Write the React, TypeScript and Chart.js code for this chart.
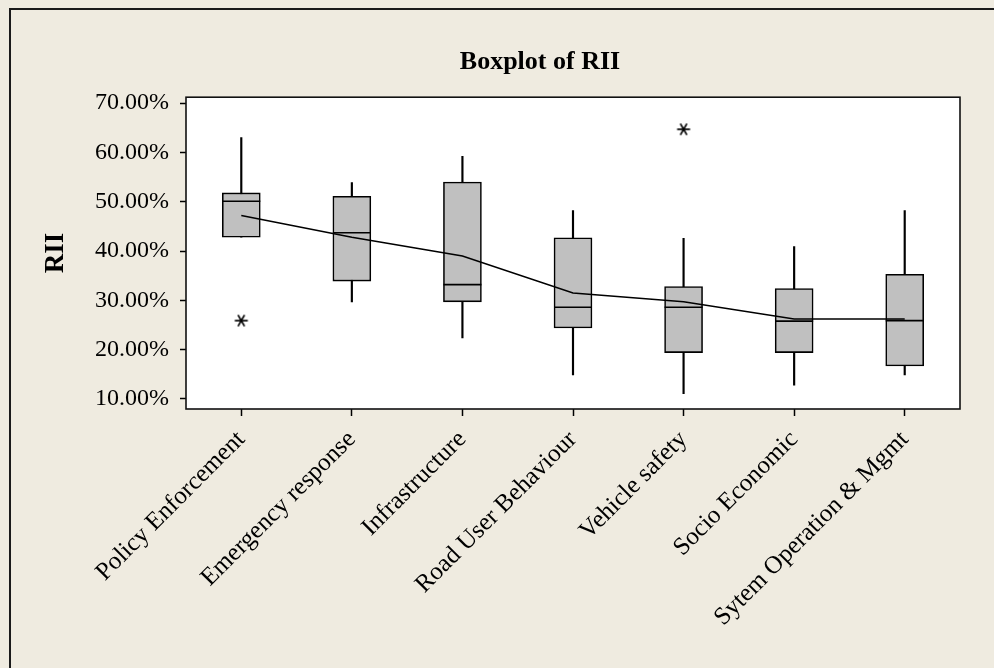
import React, { useEffect, useRef } from 'react';
import { Chart, registerables } from 'chart.js';

Chart.register(...registerables);

const categories = [
  'Policy Enforcement',
  'Emergency response',
  'Infrastructure',
  'Road User Behaviour',
  'Vehicle safety',
  'Socio Economic',
  'Sytem Operation & Mgmt',
];
const whiskerLow = [42.8, 29.7, 22.4, 14.9, 11.1, 12.8, 14.9];
const q1 = [42.8, 33.9, 29.7, 24.4, 19.4, 19.4, 16.7];
const median = [50.1, 43.7, 33.2, 28.6, 28.6, 25.8, 25.9];
const q3 = [51.8, 51.1, 54.0, 42.7, 32.8, 32.4, 35.3];
const whiskerHigh = [63.0, 53.9, 59.2, 48.2, 42.6, 40.9, 48.2];
const means = [47.2, 42.8, 39.0, 31.5, 29.7, 26.2, 26.2];
const outlierCats = ['Policy Enforcement', 'Vehicle safety'];
const outlierValues = [25.9, 64.7];
const yTicks = [10, 20, 30, 40, 50, 60, 70];

const SERIF = '"Liberation Serif", "Times New Roman", serif';

function makeAsterisk(): HTMLCanvasElement {
  const c = document.createElement('canvas');
  c.width = 16;
  c.height = 16;
  const g = c.getContext('2d')!;
  g.strokeStyle = '#000';
  g.lineWidth = 1.7;
  for (const a of [0, 60, 120]) {
    const r = (a * Math.PI) / 180;
    g.beginPath();
    g.moveTo(8 - 6.5 * Math.cos(r), 8 - 6.5 * Math.sin(r));
    g.lineTo(8 + 6.5 * Math.cos(r), 8 + 6.5 * Math.sin(r));
    g.stroke();
  }
  return c;
}

const framePlugin = {
  id: 'frame',
  beforeDraw(chart: any) {
    const { ctx, width, height, chartArea: a } = chart;
    ctx.save();
    ctx.fillStyle = '#EFEBE0';
    ctx.fillRect(0, 0, width, height);
    ctx.strokeStyle = '#1a1a1a';
    ctx.lineWidth = 2;
    ctx.strokeRect(10, 9, width + 20, height + 20);
    ctx.fillStyle = '#ffffff';
    ctx.fillRect(a.left, a.top, a.right - a.left, a.bottom - a.top);
    ctx.restore();
  },
  afterDraw(chart: any) {
    const { ctx, chartArea: a } = chart;
    ctx.save();
    ctx.strokeStyle = '#111';
    ctx.lineWidth = 1.6;
    ctx.strokeRect(a.left, a.top, a.right - a.left, a.bottom - a.top);
    ctx.restore();
  },
};

export default function App() {
  const ref = useRef<HTMLCanvasElement | null>(null);

  useEffect(() => {
    if (!ref.current) return;
    const star = makeAsterisk();
    const chart = new Chart(ref.current, {
      type: 'bar',
      data: {
        labels: categories,
        datasets: [
          {
            type: 'line',
            data: means,
            borderColor: '#000',
            borderWidth: 1.5,
            pointRadius: 0,
            tension: 0,
            fill: false,
          } as any,
          {
            type: 'line',
            data: median,
            showLine: false,
            pointStyle: 'line',
            pointRadius: 19,
            pointBorderWidth: 1.6,
            pointBorderColor: '#000',
            pointBackgroundColor: '#000',
          } as any,
          {
            type: 'line',
            data: outlierCats.map((c, i) => ({ x: c, y: outlierValues[i] })),
            showLine: false,
            pointStyle: star,
            pointRadius: 8,
          } as any,
          {
            type: 'bar',
            data: q1.map((v, i) => [v, q3[i]]),
            backgroundColor: '#C0C0C0',
            borderColor: '#000',
            borderWidth: 1.6,
            borderSkipped: false,
            barThickness: 38,
            grouped: false,
          } as any,
          {
            type: 'bar',
            data: whiskerLow.map((v, i) => [v, whiskerHigh[i]]),
            backgroundColor: '#000',
            borderWidth: 0,
            barThickness: 1.5,
            grouped: false,
          } as any,
        ],
      },
      options: {
        animation: false,
        responsive: true,
        maintainAspectRatio: false,
        layout: { padding: { left: 120, right: 34, top: 0, bottom: 0 } },
        plugins: {
          legend: { display: false },
          tooltip: { enabled: false },
          title: {
            display: true,
            text: 'Boxplot of RII',
            color: '#000',
            font: { family: SERIF, size: 26, weight: 'bold' },
            padding: { top: 47, bottom: 19 },
          },
        },
        scales: {
          x: {
            type: 'category',
            offset: true,
            grid: {
              display: true,
              drawOnChartArea: false,
              offset: false,
              tickLength: 7,
              tickColor: '#000',
              tickWidth: 1.5,
            },
            border: { display: false },
            ticks: {
              color: '#000',
              font: { family: SERIF, size: 25 },
              maxRotation: 45,
              minRotation: 45,
              padding: 9,
              autoSkip: false,
            },
            afterFit: (s: any) => {
              s.height = 259;
            },
          },
          y: {
            type: 'linear',
            min: 7.97,
            max: 71.2,
            afterBuildTicks: (s: any) => {
              s.ticks = yTicks.map((v) => ({ value: v }));
            },
            grid: {
              display: true,
              drawOnChartArea: false,
              tickLength: 6,
              tickColor: '#000',
              tickWidth: 1.5,
            },
            border: { display: false },
            ticks: {
              color: '#000',
              font: { family: SERIF, size: 24 },
              mirror: true,
              crossAlign: 'near',
              padding: -91,
              callback: (v: any) => Number(v).toFixed(2) + '%',
            },
            title: {
              display: true,
              text: 'RII',
              color: '#000',
              font: { family: SERIF, size: 27, weight: 'bold' },
              padding: { top: -80, bottom: 0 },
            },
            afterFit: (s: any) => {
              s.width = 66;
            },
          },
        },
      } as any,
      plugins: [framePlugin],
    });
    return () => chart.destroy();
  }, []);

  return (
    <div style={{ position: 'fixed', left: 0, top: 0, width: 994, height: 668 }}>
      <canvas ref={ref} />
    </div>
  );
}
